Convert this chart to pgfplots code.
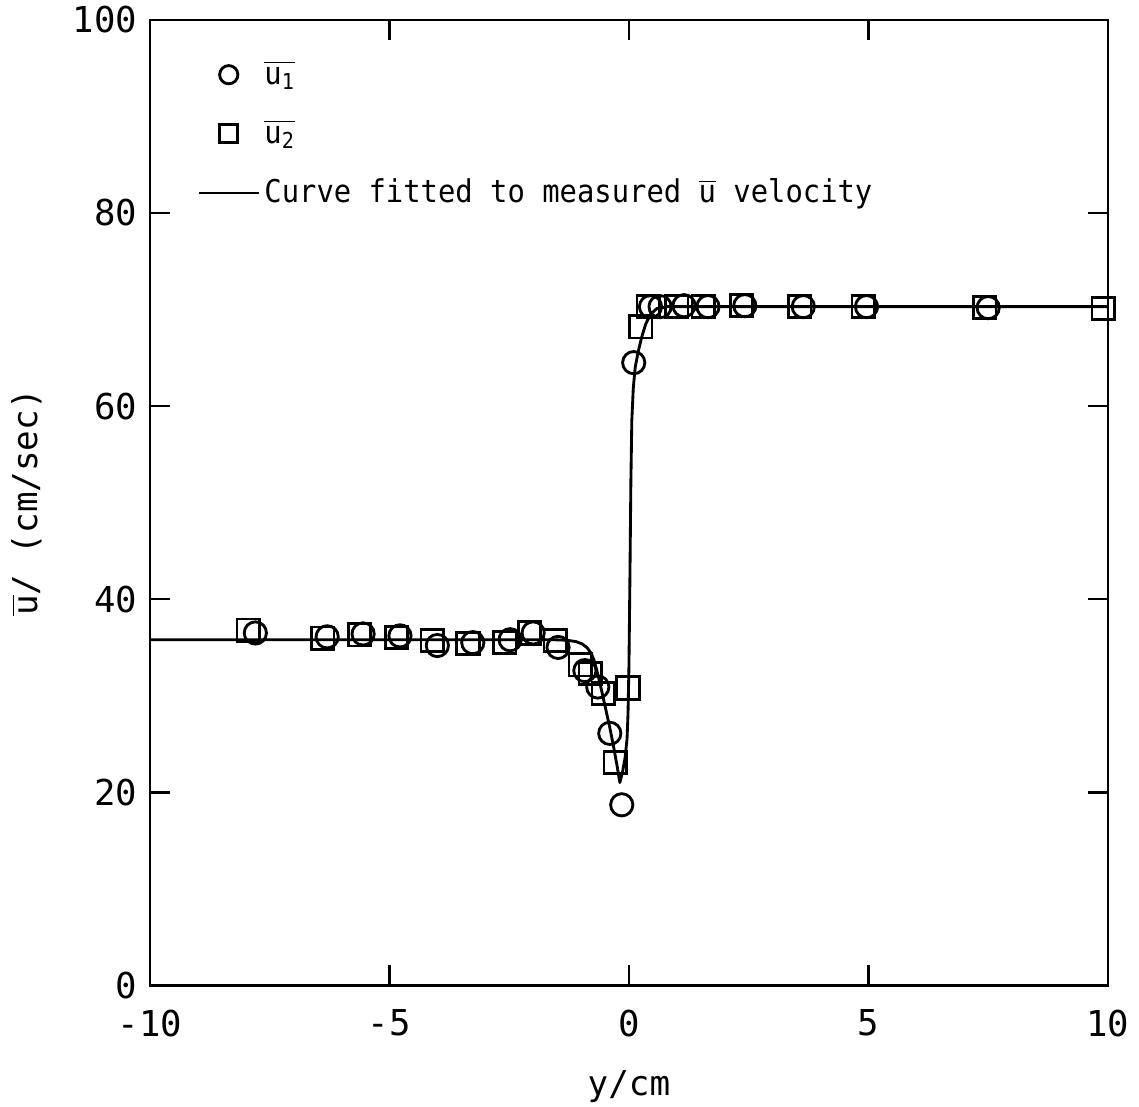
\documentclass[border=0pt]{standalone}
\usepackage{pgfplots}
\pgfplotsset{compat=1.18}
\usepackage{amsmath}
\usepackage{fontspec}
\setmainfont{DejaVu Sans Mono}
\newfontfamily\legfont[FakeStretch=0.92]{DejaVu Sans Mono}
\usetikzlibrary{calc}
\pgfplotsset{
  legmark/.style={legend image code/.code={\draw[mark repeat=2,mark phase=2,##1, mark size=3.2pt] plot coordinates {(0pt,0pt)(10.5pt,0pt)(21pt,0pt)};}},
  legline/.style={legend image code/.code={\draw[##1] (0pt,0pt) -- (21pt,0pt);}},
}
\begin{document}
\begin{tikzpicture}
\begin{axis}[
  name=ax,
  scale only axis,
  width=336pt, height=338.6pt,
  xmin=-10, xmax=10, ymin=0, ymax=100,
  xtick={-10,-5,0,5,10}, ytick={0,20,40,60,80,100},
  tick align=inside,
  major tick length=7pt,
  axis line style={line width=0.9pt},
  every tick/.style={line width=0.9pt, black},
  /pgf/number format/assume math mode=true,
  ticklabel style={font=\fontsize{12.5}{14}\selectfont},
  xticklabel style={yshift=-5pt},
  yticklabel style={xshift=-1pt},
  xlabel={y/cm},
  ylabel={$\overline{\text{u}}$/ (cm/sec)},
  label style={font=\fontsize{12}{14}\selectfont},
  xlabel style={yshift=-5pt},
  ylabel style={yshift=4pt},
  legend cell align=left,
  legend style={draw=none, fill=none, at={(rel axis cs:0.04,0.970)}, anchor=north west,
    font=\fontsize{11}{13}\legfont, row sep=7pt, nodes={inner xsep=1.5pt}},
]
\addplot[only marks, mark=o, mark size=3.9pt, line width=1pt, black, legmark]
coordinates {
(-7.8,36.5) (-6.3,36.1) (-5.55,36.4) (-4.78,36.2) (-4.0,35.2) (-3.26,35.5)
(-2.48,35.8) (-2.0,36.5) (-1.48,35.0) (-0.92,32.6) (-0.65,30.9) (-0.4,26.1)
(-0.15,18.7) (0.1,64.5) (0.45,70.3) (0.65,70.3) (1.15,70.4) (1.65,70.3)
(2.42,70.4) (3.64,70.3) (4.96,70.3) (7.5,70.2)
};
\addlegendentry{$\overline{\text{u}_{\text{1}}}$}
\addplot[only marks, mark=square, mark size=3.9pt, line width=1pt, black, legmark]
coordinates {
(-7.95,36.8) (-6.39,35.96) (-5.62,36.3) (-4.85,36.0) (-4.11,35.75) (-3.36,35.4)
(-2.59,35.5) (-2.07,36.5) (-1.54,35.7) (-1.02,33.2) (-0.81,32.3) (-0.54,30.2)
(-0.29,23.1) (-0.02,30.8) (0.25,68.2) (0.4,70.3) (1.0,70.3) (1.55,70.3)
(2.35,70.4) (3.57,70.3) (4.89,70.3) (7.43,70.2) (9.9,70.1)
};
\addlegendentry{$\overline{\text{u}_{\text{2}}}$}
\addplot[black, line width=1pt, line join=round, legline]
coordinates {
(-10,35.8) (-1.6,35.8) (-1.3,35.75) (-1.1,35.6) (-0.97,35.35) (-0.87,34.95)
(-0.79,34.4) (-0.73,33.7) (-0.68,32.8) (-0.63,31.8) (-0.56,30.3) (-0.48,28.5)
(-0.4,26.7) (-0.32,24.7) (-0.25,22.8) (-0.19,21.0) (-0.13,22.2) (-0.08,23.6)
(-0.04,25.5) (-0.02,28) (0.0,33) (0.02,42) (0.04,52) (0.06,58.5) (0.09,61.8)
(0.13,64.0) (0.2,65.8) (0.27,67.2) (0.35,68.5) (0.45,69.5) (0.58,70.1)
(0.8,70.3) (10,70.3)
};
\addlegendentry{Curve fitted to measured $\overline{\text{u}}$ velocity}
\end{axis}
\pgfresetboundingbox
\path ($(ax.south west)+(-52.6pt,-42.5pt)$) rectangle ($(ax.north east)+(10.9pt,7pt)$);
\end{tikzpicture}
\end{document}
